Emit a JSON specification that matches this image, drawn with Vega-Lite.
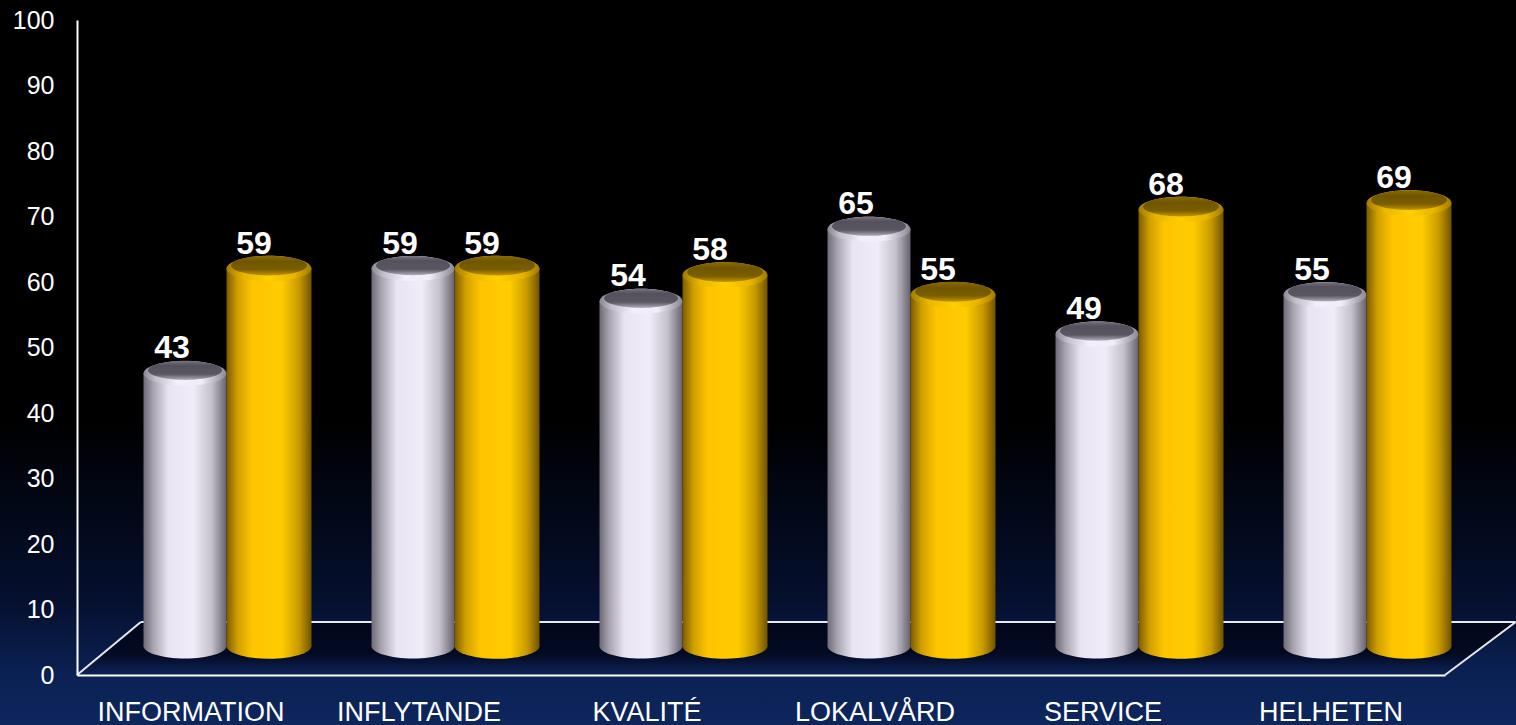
{
"$schema":"https://vega.github.io/schema/vega-lite/v6.json",
"width":1368,"height":655,
"autosize":{"type":"none"},
"padding":{"left":77,"top":20,"right":71,"bottom":50},
"background":"#000000",
"view":{"stroke":null},
"config":{"font":"Liberation Sans"},
"datasets":{
"rows":[
{"cat":"INFORMATION","serie":"Serie 1","value":43},{"cat":"INFORMATION","serie":"Serie 2","value":59},
{"cat":"INFLYTANDE","serie":"Serie 1","value":59},{"cat":"INFLYTANDE","serie":"Serie 2","value":59},
{"cat":"KVALITÉ","serie":"Serie 1","value":54},{"cat":"KVALITÉ","serie":"Serie 2","value":58},
{"cat":"LOKALVÅRD","serie":"Serie 1","value":65},{"cat":"LOKALVÅRD","serie":"Serie 2","value":55},
{"cat":"SERVICE","serie":"Serie 1","value":49},{"cat":"SERVICE","serie":"Serie 2","value":68},
{"cat":"HELHETEN","serie":"Serie 1","value":55},{"cat":"HELHETEN","serie":"Serie 2","value":69}
]},
"layer":[
{"layer":[
{"data":{"values":[{"a":-0.338,"b":6.312,"c":-7.64,"d":103.06}]},
 "mark":{"type":"rect","fill":{"gradient":"linear","x1":0,"y1":0,"x2":0,"y2":1,"stops":[{"offset":0,"color":"#000000"},{"offset":0.58,"color":"#000000"},{"offset":0.83,"color":"#05102f"},{"offset":0.93,"color":"#0b2154"},{"offset":1,"color":"#0d265c"}]}},
 "encoding":{"x":{"field":"a","type":"quantitative","scale":{"domain":[0,6],"nice":false,"zero":false},"axis":null},"x2":{"field":"b"},"y":{"field":"c","type":"quantitative","scale":{"domain":[0,100],"nice":false},"axis":{"title":null,"domainColor":"#ffffff","domainWidth":2,"ticks":false,"grid":false,"values":[0,10,20,30,40,50,60,70,80,90,100],"labelColor":"#ffffff","labelFont":"Liberation Sans","labelFontSize":25,"labelPadding":23,"zindex":1}},"y2":{"field":"d"}}},
{"data":{"values":[{"p":0,"t":0,"u":0},{"p":0.28,"t":8.1,"u":0},{"p":6,"t":8.1,"u":0},{"p":6.31,"t":8.1,"u":8.1}]},
 "mark":{"type":"area","fill":{"gradient":"linear","x1":0,"y1":0,"x2":0,"y2":1,"stops":[{"offset":0,"color":"#02061a"},{"offset":0.6,"color":"#030a22"},{"offset":1,"color":"#0c2358"}]}},
 "encoding":{"x":{"field":"p","type":"quantitative"},"y":{"field":"t","type":"quantitative"},"y2":{"field":"u"}}},
{"data":{"values":[{"a":0,"b":0.28,"c":0,"d":8.1},{"a":0.28,"b":6.31,"c":8.1,"d":8.1},{"a":6,"b":6.31,"c":0,"d":8.1}]},
 "mark":{"type":"rule","color":"#e8e8f0","strokeWidth":2},
 "encoding":{"x":{"field":"a","type":"quantitative"},"x2":{"field":"b"},"y":{"field":"c","type":"quantitative"},"y2":{"field":"d"}}}
]},
{"data":{"name":"rows"},
 "encoding":{"x":{"field":"cat","type":"nominal","sort":null,"scale":{"domain":["INFORMATION","INFLYTANDE","KVALITÉ","LOKALVÅRD","SERVICE","HELHETEN"],"paddingInner":0,"paddingOuter":0},
   "axis":{"orient":"bottom","title":null,"domainColor":"#ffffff","domainWidth":2,"ticks":false,"labelAngle":0,"labelColor":"#ffffff","labelFont":"Liberation Sans","labelFontSize":27,"labelPadding":24,"labelDx":1.5,"labelOverlap":false,"labelLimit":400,"grid":false,"zindex":1}}},
 "layer":[
 {"transform":[{"filter":"datum.serie==='Serie 1'"}],
  "layer":[
  {"mark":{"type":"bar","size":83,"xOffset":-6,"yOffset":-20,"y2Offset":-29,"fill":{"gradient":"linear","x1":0,"y1":0,"x2":1,"y2":0,"stops":[{"offset":0,"color":"#6e6a76"},{"offset":0.12,"color":"#a8a4b0"},{"offset":0.3,"color":"#e8e4f2"},{"offset":0.6,"color":"#f0ecf8"},{"offset":0.82,"color":"#c4c0cc"},{"offset":1,"color":"#66626e"}]}},
   "encoding":{"y":{"field":"value","type":"quantitative"},"y2":{"datum":0}}},
  {"mark":{"type":"point","filled":true,"opacity":1,"strokeWidth":0,"shape":"M-1,0A1,0.3,0,1,1,1,0A1,0.3,0,1,1,-1,0Z","size":6889,"xOffset":-6,"yOffset":-29,"fill":{"gradient":"linear","x1":0,"y1":0,"x2":1,"y2":0,"stops":[{"offset":0,"color":"#6e6a76"},{"offset":0.12,"color":"#a8a4b0"},{"offset":0.3,"color":"#e8e4f2"},{"offset":0.6,"color":"#f0ecf8"},{"offset":0.82,"color":"#c4c0cc"},{"offset":1,"color":"#66626e"}]}},
   "encoding":{"y":{"datum":0,"type":"quantitative"}}},
  {"mark":{"type":"point","filled":true,"opacity":1,"strokeWidth":0,"shape":"M-1,0A1,0.3,0,1,1,1,0A1,0.3,0,1,1,-1,0Z","size":6889,"xOffset":-6,"yOffset":-20,"fill":{"gradient":"linear","x1":0,"y1":0,"x2":1,"y2":0,"stops":[{"offset":0,"color":"#8a8692"},{"offset":0.15,"color":"#c4c0cc"},{"offset":0.4,"color":"#f4f0fa"},{"offset":0.7,"color":"#f0ecf8"},{"offset":1,"color":"#8a8692"}]}},
   "encoding":{"y":{"field":"value","type":"quantitative"}}},
  {"mark":{"type":"point","filled":true,"opacity":1,"strokeWidth":0,"shape":"M-1,0A1,0.26,0,1,1,1,0A1,0.26,0,1,1,-1,0Z","size":5476,"xOffset":-6,"yOffset":-23,"fill":{"gradient":"linear","x1":0,"y1":0,"x2":0,"y2":1,"stops":[{"offset":0,"color":"#77737f"},{"offset":0.25,"color":"#55515c"},{"offset":0.7,"color":"#5a5662"},{"offset":1,"color":"#b0acb8"}]}},
   "encoding":{"y":{"field":"value","type":"quantitative"}}},
  {"mark":{"type":"text","dx":-19,"dy":-35,"baseline":"alphabetic","fontSize":32,"fontWeight":"bold","fill":"#ffffff","font":"Liberation Sans"},
   "encoding":{"y":{"field":"value","type":"quantitative"},"text":{"field":"value","type":"quantitative"}}}
  ]},
 {"transform":[{"filter":"datum.serie==='Serie 2'"}],
  "layer":[
  {"mark":{"type":"bar","size":85,"xOffset":78,"yOffset":-20,"y2Offset":-29,"fill":{"gradient":"linear","x1":0,"y1":0,"x2":1,"y2":0,"stops":[{"offset":0,"color":"#7a5c00"},{"offset":0.13,"color":"#d09f00"},{"offset":0.3,"color":"#ffc400"},{"offset":0.65,"color":"#ffcc00"},{"offset":0.85,"color":"#c99a00"},{"offset":1,"color":"#705400"}]}},
   "encoding":{"y":{"field":"value","type":"quantitative"},"y2":{"datum":0}}},
  {"mark":{"type":"point","filled":true,"opacity":1,"strokeWidth":0,"shape":"M-1,0A1,0.3,0,1,1,1,0A1,0.3,0,1,1,-1,0Z","size":7225,"xOffset":78,"yOffset":-29,"fill":{"gradient":"linear","x1":0,"y1":0,"x2":1,"y2":0,"stops":[{"offset":0,"color":"#7a5c00"},{"offset":0.13,"color":"#d09f00"},{"offset":0.3,"color":"#ffc400"},{"offset":0.65,"color":"#ffcc00"},{"offset":0.85,"color":"#c99a00"},{"offset":1,"color":"#705400"}]}},
   "encoding":{"y":{"datum":0,"type":"quantitative"}}},
  {"mark":{"type":"point","filled":true,"opacity":1,"strokeWidth":0,"shape":"M-1,0A1,0.3,0,1,1,1,0A1,0.3,0,1,1,-1,0Z","size":7225,"xOffset":78,"yOffset":-20,"fill":{"gradient":"linear","x1":0,"y1":0,"x2":1,"y2":0,"stops":[{"offset":0,"color":"#a07a00"},{"offset":0.2,"color":"#e8b400"},{"offset":0.5,"color":"#ffd000"},{"offset":0.8,"color":"#e8b400"},{"offset":1,"color":"#a07a00"}]}},
   "encoding":{"y":{"field":"value","type":"quantitative"}}},
  {"mark":{"type":"point","filled":true,"opacity":1,"strokeWidth":0,"shape":"M-1,0A1,0.26,0,1,1,1,0A1,0.26,0,1,1,-1,0Z","size":5776,"xOffset":78,"yOffset":-23,"fill":{"gradient":"linear","x1":0,"y1":0,"x2":0,"y2":1,"stops":[{"offset":0,"color":"#8a6a00"},{"offset":0.3,"color":"#705600"},{"offset":0.7,"color":"#7a5e00"},{"offset":1,"color":"#c09400"}]}},
   "encoding":{"y":{"field":"value","type":"quantitative"}}},
  {"mark":{"type":"text","dx":63,"dy":-35,"baseline":"alphabetic","fontSize":32,"fontWeight":"bold","fill":"#ffffff","font":"Liberation Sans"},
   "encoding":{"y":{"field":"value","type":"quantitative"},"text":{"field":"value","type":"quantitative"}}}
  ]}
 ]}
],
"resolve":{"scale":{"x":"independent"}}
}
